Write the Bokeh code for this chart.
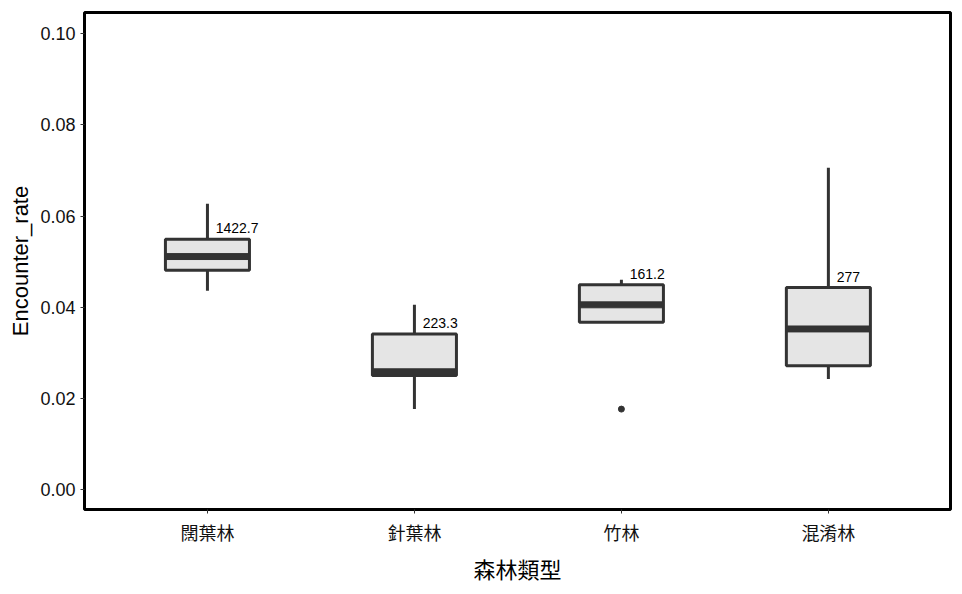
from bokeh.plotting import figure
from bokeh.embed import file_html
from bokeh.resources import INLINE
from bokeh.models import Range1d, FixedTicker
from bokeh.core.properties import value

categories = ["闊葉林", "針葉林", "竹林", "混淆林"]
whisker_low = [0.0436, 0.0176, 0.0367, 0.0242]
q1 = [0.0481, 0.0250, 0.0367, 0.0271]
median = [0.0511, 0.0258, 0.0405, 0.0352]
q3 = [0.0549, 0.0341, 0.0449, 0.0443]
whisker_high = [0.0627, 0.0405, 0.0460, 0.0706]
outlier_x = [2]
outlier_y = [0.0176]
labels = ["1422.7", "223.3", "161.2", "277"]

xs = list(range(len(categories)))

p = figure(width=954, height=586, output_backend="svg", toolbar_location=None,
           x_range=Range1d(-0.594, 3.59), y_range=Range1d(-0.00445, 0.1047),
           min_border_left=84, min_border_right=4, min_border_top=12, min_border_bottom=59)
p.background_fill_color = "white"
p.outline_line_color = "black"
p.outline_line_width = 3
p.xgrid.visible = False
p.ygrid.visible = False

p.segment(xs, whisker_low, xs, whisker_high, line_color="#333333", line_width=3)
p.vbar(x=xs, bottom=q1, top=q3, width=0.406, fill_color="#e5e5e5",
       line_color="#333333", line_width=3)
p.rect(x=xs, y=median, width=0.406, height=0.0013, fill_color="#333333", line_color="#333333")
p.scatter(outlier_x, outlier_y, size=6, color="#333333")
p.text([x + 0.04 for x in xs], q3, text=labels, text_font_size="14px",
       text_baseline="bottom", y_offset=-6, text_font=value("Liberation Sans"))

p.xaxis.ticker = FixedTicker(ticks=xs)
p.xaxis.major_label_overrides = {i: c for i, c in enumerate(categories)}
p.yaxis.ticker = FixedTicker(ticks=[0, 0.02, 0.04, 0.06, 0.08, 0.1])
p.yaxis.major_label_overrides = {0: "0.00", 0.02: "0.02", 0.04: "0.04", 0.06: "0.06",
                                 0.08: "0.08", 0.1: "0.10"}
for ax in (p.xaxis, p.yaxis):
    ax.axis_line_color = None
    ax.major_tick_line_color = "#333333"
    ax.minor_tick_line_color = None
    ax.major_tick_in = 0
    ax.major_tick_out = 4
    ax.major_label_text_font_size = "18px"
    ax.major_label_text_color = "#111111"
    ax.major_label_text_font = "Noto Sans CJK TC"
    ax.axis_label_text_font_style = "normal"
    ax.axis_label_text_font_size = "22px"
    ax.axis_label_text_color = "black"
    ax.axis_label_text_font = "Noto Sans CJK TC"
    ax.axis_label_standoff = 4
p.xaxis.axis_label = "森林類型"
p.yaxis.axis_label = "Encounter_rate"
p.yaxis.major_label_text_font = "Liberation Sans"
p.yaxis.axis_label_text_font = "Liberation Sans"

open("out.html", "w").write(file_html(p, INLINE))
